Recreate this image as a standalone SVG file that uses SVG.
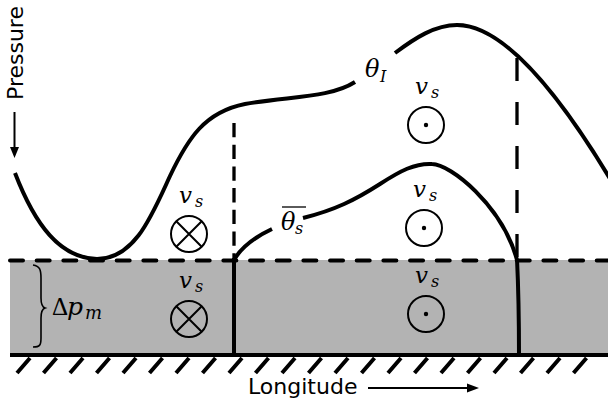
<svg xmlns="http://www.w3.org/2000/svg" width="608" height="401" viewBox="0 0 608 401">
<style>
.curve{fill:none;stroke:#000;stroke-width:4;stroke-linecap:butt}
.circ{fill:none;stroke:#000;stroke-width:2}
.m{font-family:"DejaVu Serif",serif;font-style:italic;fill:#000}
.sans{font-family:"DejaVu Sans",sans-serif;font-size:22px;fill:#000}
</style>
<defs>
<g id="otimes"><circle class="circ" r="18"/><path d="M-12.7,-12.7L12.7,12.7M-12.7,12.7L12.7,-12.7" stroke="#000" stroke-width="2"/></g>
<g id="odot"><circle class="circ" r="18"/><circle r="2.2" fill="#000"/></g>
</defs>
<rect id="layer" x="10" y="260" width="598" height="95" fill="#b3b3b3"/>
<g id="connectors">
<line x1="10" y1="260.5" x2="608" y2="260.5" stroke="#000" stroke-width="4" stroke-dasharray="13 13.67" stroke-linecap="round"/>
<line x1="10" y1="355" x2="608" y2="355" stroke="#000" stroke-width="4"/>
<path id="hatch" stroke="#000" stroke-width="4" fill="none" d="M17,373l13,-15M43.5,373l13,-15M70,373l13,-15M96.5,373l13,-15M123,373l13,-15M149.5,373l13,-15M176,373l13,-15M202.5,373l13,-15M229,373l13,-15M255.5,373l13,-15M282,373l13,-15M308.5,373l13,-15M335,373l13,-15M361.5,373l13,-15M388,373l13,-15M414.5,373l13,-15M441,373l13,-15M467.5,373l13,-15M494,373l13,-15M520.5,373l13,-15M547,373l13,-15M573.5,373l13,-15"/>
<line x1="234" y1="123" x2="234" y2="258" stroke="#000" stroke-width="3.3" stroke-dasharray="14.3 7.4"/>
<line x1="517" y1="58" x2="517" y2="258" stroke="#000" stroke-width="3.3" stroke-dasharray="23 21"/>
<line x1="234" y1="258" x2="234" y2="355" stroke="#000" stroke-width="4"/>
<path class="curve" d="M517,259 C518.5,290 519,320 519,355"/>
<path id="thetaI" class="curve" d="M15,173 C35,225 60,258 97,259 C135,259 152,215 170,176 C188,138 205,112 245,104 C290,96 330,98 355,82"/>
<path id="thetaI2" class="curve" d="M395,53 C415,38 435,25 457,25 C495,25 545,70 612,182"/>
<path id="thetas1" class="curve" d="M234,260 C242,246 255,237 272,229"/>
<path id="thetas2" class="curve" d="M303,218 C335,210 355,200 380,184 C400,171 415,163 432,164 C450,164 502,205 517,260"/>
</g>
<g id="n-otimes-top"><use href="#otimes" x="189" y="234"/><text class="m" x="179" y="203" font-size="23">v</text><text class="m" x="195" y="207" font-size="16">s</text></g>
<g id="n-otimes-low"><use href="#otimes" x="189" y="319"/><text class="m" x="179" y="288" font-size="23">v</text><text class="m" x="195" y="292" font-size="16">s</text></g>
<g id="n-odot-top"><use href="#odot" x="426" y="125"/><text class="m" x="415" y="94" font-size="23">v</text><text class="m" x="431" y="98" font-size="16">s</text></g>
<g id="n-odot-mid"><use href="#odot" x="424" y="228"/><text class="m" x="413" y="197" font-size="23">v</text><text class="m" x="429" y="201" font-size="16">s</text></g>
<g id="n-odot-low"><use href="#odot" x="426" y="314"/><text class="m" x="415" y="283" font-size="23">v</text><text class="m" x="431" y="287" font-size="16">s</text></g>
<g id="n-thetaI-label"><text class="m" x="365" y="77" font-size="24">θ</text><text class="m" x="380" y="82" font-size="16">I</text></g>
<g id="n-thetas-label"><line x1="282" y1="207" x2="306" y2="207" stroke="#000" stroke-width="1.3"/><text class="m" x="281" y="230" font-size="24">θ</text><text class="m" x="295" y="234" font-size="16">s</text></g>
<g id="n-dpm">
<path d="M33,265 C40,266 41,270 41,278 L41,298 C41,304 42,307 45,308 C42,309 41,312 41,318 L41,338 C41,345 40,347 33,347" fill="none" stroke="#000" stroke-width="1.6"/>
<text x="52" y="315" font-family="Liberation Serif,serif" font-size="25">Δ</text><text class="m" x="67" y="315" font-size="25">p</text><text class="m" x="85" y="319" font-size="18">m</text>
</g>
<g id="n-pressure">
<text class="sans" transform="translate(23,100) rotate(-90)">Pressure</text>
<line x1="14.5" y1="112" x2="14.5" y2="149" stroke="#000" stroke-width="2"/>
<polygon points="10,147 19,147 14.5,158" fill="#000"/>
</g>
<g id="n-longitude">
<text class="sans" x="248" y="394">Longitude</text>
<line x1="368" y1="388" x2="470" y2="388" stroke="#000" stroke-width="2"/>
<polygon points="467,383.5 467,392.5 479,388" fill="#000"/>
</g>
</svg>
